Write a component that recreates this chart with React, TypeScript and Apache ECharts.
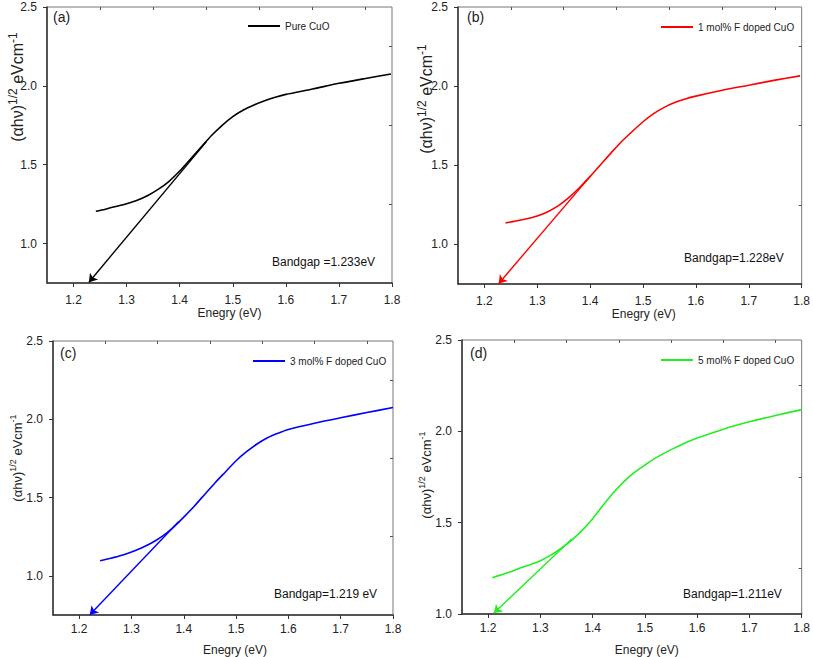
import React, { useEffect, useRef } from "react";
import * as echarts from "echarts";

const FONT = "'Liberation Sans', Arial, sans-serif";

// Axis ticks
const xTickValues = [1.2, 1.3, 1.4, 1.5, 1.6, 1.7, 1.8];
const xMinorValues = [1.25, 1.35, 1.45, 1.55, 1.65, 1.75];
const yTickValues = [1.0, 1.5, 2.0, 2.5];
const yMinorValues = [1.25, 1.75, 2.25];
const xMin = 1.15;
const xMax = 1.8;
const yMins = [0.75, 0.75, 0.75, 1.0];
const yMax = 2.5;

// Series names and texts
const seriesNames = ["Pure CuO", "1 mol% F doped CuO", "3 mol% F doped CuO", "5 mol% F doped CuO"];
const panelLetters = ["(a)", "(b)", "(c)", "(d)"];
const bandgapTexts = ["Bandgap =1.233eV", "Bandgap=1.228eV", "Bandgap=1.219 eV", "Bandgap=1.211eV"];
const xAxisName = "Enegry (eV)";

// (a) Pure CuO
const energyA = [1.242, 1.26, 1.28, 1.30, 1.32, 1.34, 1.36, 1.38, 1.40, 1.42, 1.44, 1.46, 1.48, 1.50, 1.52, 1.54, 1.56, 1.58, 1.60, 1.65, 1.70, 1.75, 1.798];
const taucA = [1.205, 1.218, 1.235, 1.253, 1.275, 1.305, 1.345, 1.395, 1.46, 1.535, 1.61, 1.685, 1.75, 1.805, 1.847, 1.879, 1.906, 1.928, 1.946, 1.98, 2.016, 2.047, 2.075];
const tangentA = [[1.45, 1.645], [1.229, 0.755]];

// (b) 1 mol% F doped CuO
const energyB = [1.24, 1.26, 1.28, 1.30, 1.32, 1.34, 1.36, 1.38, 1.40, 1.42, 1.44, 1.46, 1.48, 1.50, 1.52, 1.54, 1.56, 1.58, 1.60, 1.65, 1.70, 1.75, 1.797];
const taucB = [1.136, 1.148, 1.162, 1.18, 1.207, 1.245, 1.297, 1.36, 1.43, 1.505, 1.58, 1.652, 1.715, 1.775, 1.826, 1.866, 1.896, 1.919, 1.937, 1.974, 2.006, 2.038, 2.065];
const tangentB = [[1.40, 1.43], [1.227, 0.753]];

// (c) 3 mol% F doped CuO
const energyC = [1.24, 1.26, 1.28, 1.30, 1.32, 1.34, 1.36, 1.38, 1.40, 1.42, 1.44, 1.46, 1.48, 1.50, 1.52, 1.54, 1.56, 1.58, 1.60, 1.65, 1.70, 1.75, 1.80];
const taucC = [1.096, 1.112, 1.13, 1.153, 1.18, 1.213, 1.255, 1.31, 1.375, 1.445, 1.52, 1.595, 1.665, 1.735, 1.793, 1.842, 1.882, 1.911, 1.935, 1.975, 2.01, 2.043, 2.075];
const tangentC = [[1.39, 1.345], [1.2204, 0.752]];

// (d) 5 mol% F doped CuO
const energyD = [1.208, 1.24, 1.26, 1.28, 1.30, 1.32, 1.34, 1.36, 1.38, 1.40, 1.42, 1.44, 1.46, 1.48, 1.50, 1.52, 1.54, 1.56, 1.58, 1.60, 1.65, 1.70, 1.75, 1.80];
const taucD = [1.199, 1.228, 1.25, 1.27, 1.292, 1.322, 1.36, 1.405, 1.458, 1.522, 1.595, 1.665, 1.725, 1.775, 1.815, 1.853, 1.885, 1.913, 1.94, 1.963, 2.012, 2.052, 2.087, 2.119];
const tangentD = [[1.36, 1.41], [1.211, 1.005]];

const energies = [energyA, energyB, energyC, energyD];
const taucs = [taucA, taucB, taucC, taucD];
const tangents = [tangentA, tangentB, tangentC, tangentD];
const colors = ["#000000", "#ff0000", "#0000ff", "#22ee22"];

// layout (pixels)
const grids = [
  { left: 47, top: 7, width: 345, height: 276 },
  { left: 458, top: 7, width: 345, height: 277 },
  { left: 53, top: 341, width: 340, height: 274 },
  { left: 462, top: 340, width: 340, height: 274 },
];
const xLabelMargin = [11, 11, 8, 8];
const xNameGap = [24, 24, 29, 30];
const xNamePad = [20, 28, 24, 30];
const legendPos = [
  { left: 248, top: 21 },
  { left: 661, top: 22 },
  { left: 253, top: 356 },
  { left: 661, top: 355 },
];
const letterPos = [
  { x: 53, y: 17 },
  { x: 467, y: 17 },
  { x: 60, y: 353 },
  { x: 470, y: 353 },
];
const bandgapPos = [
  { x: 272, y: 262 },
  { x: 684, y: 258 },
  { x: 274, y: 594 },
  { x: 683, y: 594 },
];
const yNamePos = [
  { x: 17, y: 87 },
  { x: 426, y: 99 },
  { x: 17, y: 458 },
  { x: 426, y: 475 },
];
const yNameSize = [16, 16, 13, 13];

export default function App() {
  const ref = useRef<HTMLDivElement>(null);
  useEffect(() => {
    if (!ref.current) return;
    const chart = echarts.init(ref.current, undefined, { renderer: "svg" });
    const xAxes: any[] = [];
    const yAxes: any[] = [];
    const series: any[] = [];
    const legends: any[] = [];
    const graphics: any[] = [];
    for (let i = 0; i < 4; i++) {
      xAxes.push({
        type: "value",
        gridIndex: i,
        min: xMin,
        max: xMax,
        name: xAxisName,
        nameLocation: "middle",
        nameGap: xNameGap[i],
        nameTextStyle: { fontSize: 12, fontFamily: FONT, color: "#222", padding: [0, 0, 0, xNamePad[i]] },
        axisLine: { onZero: false, lineStyle: { color: "#333", width: 1.5 } },
        axisTick: { customValues: xTickValues, length: 4, lineStyle: { color: "#333" } },
        axisLabel: { customValues: xTickValues, margin: xLabelMargin[i], fontSize: 12, fontFamily: FONT, color: "#222", formatter: (v: number) => v.toFixed(1) },
        splitLine: { show: false },
      });
      xAxes.push({
        type: "value",
        gridIndex: i,
        min: xMin,
        max: xMax,
        axisLine: { show: false },
        axisTick: { customValues: xMinorValues, length: 3, inside: true, lineStyle: { color: "#555" } },
        axisLabel: { show: false },
        splitLine: { show: false },
      });
      yAxes.push({
        type: "value",
        gridIndex: i,
        min: yMins[i],
        max: yMax,
        axisLine: { onZero: false, lineStyle: { color: "#333", width: 1.5 } },
        axisTick: { customValues: yTickValues, length: 4, lineStyle: { color: "#333" } },
        axisLabel: { customValues: yTickValues, margin: 10, fontSize: 12, fontFamily: FONT, color: "#222", formatter: (v: number) => v.toFixed(1) },
        splitLine: { show: false },
      });
      yAxes.push({
        type: "value",
        gridIndex: i,
        min: yMins[i],
        max: yMax,
        axisLine: { show: false },
        axisTick: { customValues: yMinorValues, length: 3, inside: true, lineStyle: { color: "#555" } },
        axisLabel: { show: false },
        splitLine: { show: false },
      });
      series.push({
        type: "line",
        name: seriesNames[i],
        xAxisIndex: 2 * i,
        yAxisIndex: 2 * i,
        data: energies[i].map((e, k) => [e, taucs[i][k]]),
        symbol: "none",
        smooth: 0.3,
        lineStyle: { color: colors[i], width: 1.6 },
        itemStyle: { color: colors[i] },
        markLine: {
          silent: true,
          symbol: ["none", "arrow"],
          symbolSize: 8,
          label: { show: false },
          lineStyle: { color: colors[i], width: 1.4, type: "solid" },
          data: [[{ coord: tangents[i][0] }, { coord: tangents[i][1] }]],
        },
      });
      legends.push({
        data: [seriesNames[i]],
        left: legendPos[i].left,
        top: legendPos[i].top,
        padding: 0,
        icon: "rect",
        itemWidth: 32,
        itemHeight: 2,
        selectedMode: false,
        textStyle: { fontSize: 10, fontFamily: FONT, color: "#222" },
      });
      graphics.push({
        type: "text",
        x: letterPos[i].x,
        y: letterPos[i].y,
        style: { text: panelLetters[i], font: `14px ${FONT}`, fill: "#222", verticalAlign: "middle" },
      });
      graphics.push({
        type: "text",
        x: bandgapPos[i].x,
        y: bandgapPos[i].y,
        style: { text: bandgapTexts[i], font: `12px ${FONT}`, fill: "#111", verticalAlign: "middle" },
      });
      const fs = yNameSize[i];
      graphics.push({
        type: "text",
        x: yNamePos[i].x,
        y: yNamePos[i].y,
        rotation: Math.PI / 2,
        style: {
          text: "{n|(αhν)}{s|1/2}{n| eVcm}{s|-1}",
          align: "center",
          verticalAlign: "middle",
          rich: {
            n: { fontSize: fs, fontFamily: FONT, fill: "#222", lineHeight: fs + 4, verticalAlign: "middle" },
            s: { fontSize: fs - 4, fontFamily: FONT, fill: "#222", lineHeight: fs - 5, verticalAlign: "top" },
          },
        },
      });
    }
    chart.setOption({
      animation: false,
      backgroundColor: "#ffffff",
      grid: grids.map((g) => ({ ...g, show: true, borderColor: "#777", borderWidth: 1, containLabel: false })),
      xAxis: xAxes,
      yAxis: yAxes,
      legend: legends,
      series,
      graphic: graphics,
    });
    return () => chart.dispose();
  }, []);
  return <div ref={ref} style={{ position: "absolute", left: 0, top: 0, width: 813, height: 657 }} />;
}
